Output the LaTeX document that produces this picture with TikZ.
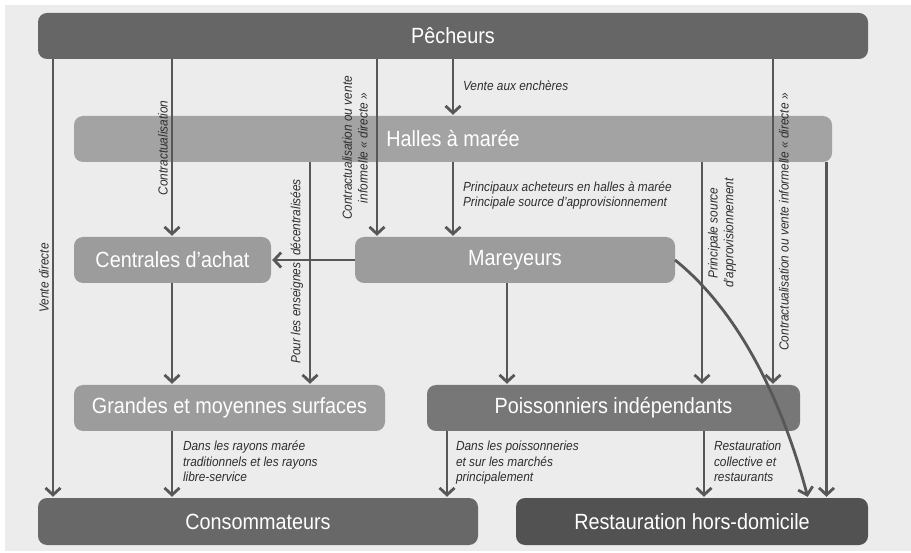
\documentclass[tikz,border=0pt]{standalone}
\usepackage{fontspec}
\setmainfont{Liberation Sans}[FakeStretch=0.9]
\usetikzlibrary{arrows.meta}
\definecolor{bgc}{HTML}{ECECEC}
\definecolor{linec}{HTML}{575757}
\definecolor{labc}{HTML}{2E2E2E}
\definecolor{cpech}{HTML}{666666}
\definecolor{chall}{HTML}{A3A3A3}
\definecolor{cmid}{HTML}{9C9C9C}
\definecolor{cpois}{HTML}{777777}
\definecolor{ccons}{HTML}{686868}
\definecolor{crest}{HTML}{525252}
\begin{document}
\begin{tikzpicture}[x=1pt,y=-1pt,
  box/.style={rounded corners=9pt, inner sep=0pt, outer sep=0pt, text={white}, font=\fontsize{22}{25}\selectfont, minimum height=46pt},
  arr/.style={draw=linec, line width=2.8pt, shorten >=1.2pt, -{Straight Barb[length=7pt,width=15pt]}},
  lab/.style={font=\fontsize{13.2}{15.7}\selectfont\itshape, text=labc, inner sep=0pt, outer sep=0pt}]
\useasboundingbox (0,0) rectangle (911,553);
\fill[white] (0,0) rectangle (911,553);
\fill[bgc] (5,5) rectangle (911,551);
% boxes
\node[box, fill=cpech, minimum width=830pt] (pech) at (453,36) {Pêcheurs};
\node[box, fill=chall, minimum width=758pt] (hall) at (453,139) {Halles à marée};
\node[box, fill=cmid, minimum width=197pt] (cent) at (172.5,260) {Centrales d’achat};
\node[box, fill=cmid, minimum width=320pt] (mare) at (515,260) {Mareyeurs};
\node[box, fill=cmid, minimum width=311pt] (gms) at (229.5,408) {Grandes et moyennes surfaces};
\node[box, fill=cpois, minimum width=373pt] (pois) at (613.5,408) {Poissonniers indépendants};
\node[box, fill=ccons, minimum width=440pt, minimum height=47pt] (cons) at (258,521.5) {Consommateurs};
\node[box, fill=crest, minimum width=352pt, minimum height=47pt] (rest) at (692,521.5) {Restauration hors-domicile};
% x positions
\coordinate (xa) at (53,0);
\coordinate (xb) at (172,0);
\coordinate (xc) at (377,0);
\coordinate (xd) at (453,0);
\coordinate (xe) at (773,0);
\coordinate (xf) at (310,0);
\coordinate (xh) at (702,0);
\coordinate (xi) at (826.5,0);
\coordinate (xl) at (507,0);
\coordinate (xo) at (447,0);
\coordinate (xp) at (704,0);
\coordinate (xq) at (808,0);
% connectors
\draw[arr] (pech.south -| xa) -- (cons.north -| xa);
\draw[arr] (pech.south -| xb) -- (cent.north -| xb);
\draw[arr] (pech.south -| xc) -- (mare.north -| xc);
\draw[arr] (pech.south -| xd) -- (hall.north -| xd);
\draw[arr] (pech.south -| xe) -- (pois.north -| xe);
\draw[arr] (hall.south -| xf) -- (gms.north -| xf);
\draw[arr] (hall.south -| xd) -- (mare.north -| xd);
\draw[arr] (hall.south -| xh) -- (pois.north -| xh);
\draw[arr] (hall.south -| xi) -- (rest.north -| xi);
\draw[arr] (mare.west) -- (cent.east);
\draw[arr] (cent.south -| xb) -- (gms.north -| xb);
\draw[arr] (mare.south -| xl) -- (pois.north -| xl);
\draw[arr] (mare.east) .. controls (752,322) and (790,430) .. (rest.north -| xq);
\draw[arr] (gms.south -| xb) -- (cons.north -| xb);
\draw[arr] (pois.south -| xo) -- (cons.north -| xo);
\draw[arr] (pois.south -| xp) -- (rest.north -| xp);
% labels
\node[lab, rotate=90] (lvd) at (44,278) {Vente directe};
\node[lab, rotate=90] (lct) at (163,148) {Contractualisation};
\node[lab, rotate=90, align=center] (lcv) at (355,148) {Contractualisation ou vente\\informelle « directe »};
\node[lab, rotate=90] (lpe) at (297,271.5) {Pour les enseignes\hspace{7pt}décentralisées};
\node[lab, rotate=90, align=center] (lps) at (722,233) {Principale source\\d’approvisionnement};
\node[lab, rotate=90] (lcr) at (784,222) {Contractualisation ou vente informelle « directe »};
\node[lab, anchor=base west] (lve) at (463,91) {Vente aux enchères};
\node[lab, anchor=base west, align=left] (lpa) at (463,207) {Principaux acheteurs en halles à marée\\Principale source d’approvisionnement};
\node[lab, anchor=base west, align=left] (lgm) at (183,482) {Dans les rayons marée\\traditionnels et les rayons\\libre-service};
\node[lab, anchor=base west, align=left] (lpo) at (456,482) {Dans les poissonneries\\et sur les marchés\\principalement};
\node[lab, anchor=base west, align=left] (lre) at (714,482) {Restauration\\collective et\\restaurants};
\end{tikzpicture}
\end{document}
